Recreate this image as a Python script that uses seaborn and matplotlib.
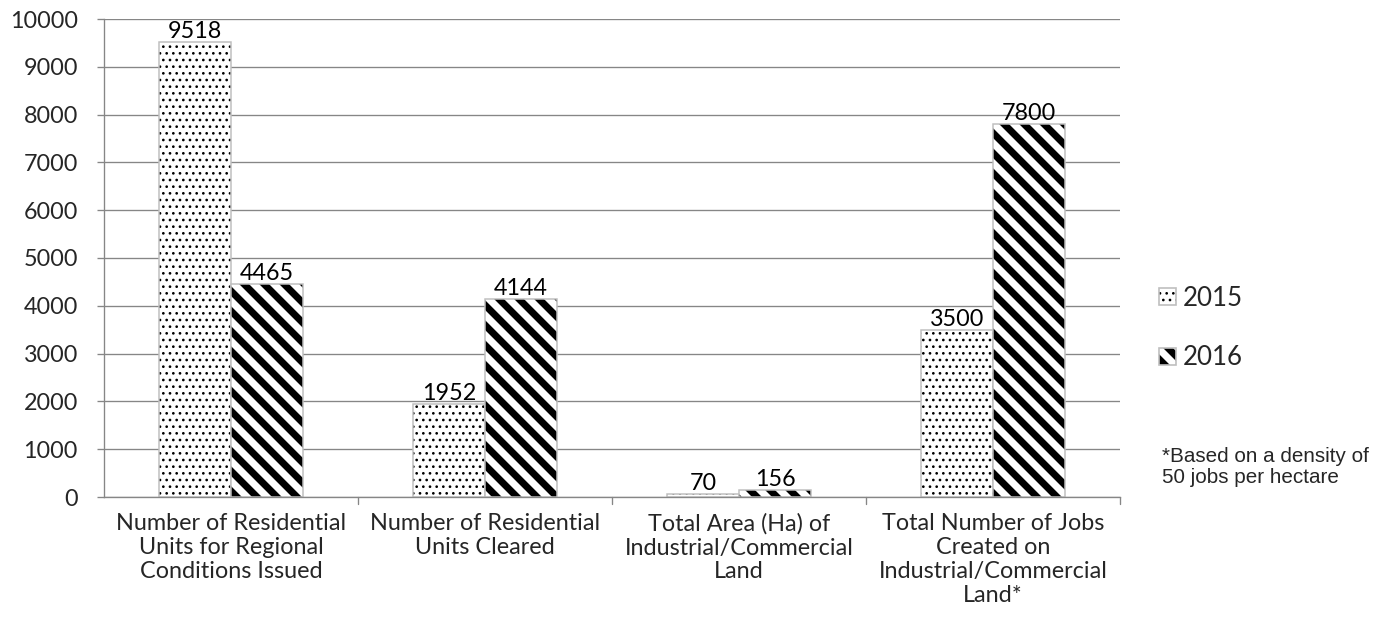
import matplotlib
matplotlib.use("Agg")
import matplotlib.pyplot as plt
from matplotlib.patches import Patch
import seaborn as sns
import pandas as pd

categories = [
    "Number of Residential\nUnits for Regional\nConditions Issued",
    "Number of Residential\nUnits Cleared",
    "Total Area (Ha) of\nIndustrial/Commercial\nLand",
    "Total Number of Jobs\nCreated on\nIndustrial/Commercial\nLand*",
]
years = ["2015", "2016"]
values_2015 = [9518, 1952, 70, 3500]
values_2016 = [4465, 4144, 156, 7800]
y_ticks = [0, 1000, 2000, 3000, 4000, 5000, 6000, 7000, 8000, 9000, 10000]
footnote = "*Based on a density of\n50 jobs per hectare"

df = pd.DataFrame({
    "category": categories * 2,
    "year": [years[0]] * len(categories) + [years[1]] * len(categories),
    "value": values_2015 + values_2016,
})

DPI = 120
W, H = 1392, 638
FS = 14

sns.set_theme(style="white")
plt.rcParams["font.family"] = ["Lato", "DejaVu Sans"]
plt.rcParams["hatch.linewidth"] = 0.8

fig = plt.figure(figsize=(W / DPI, H / DPI), dpi=DPI)
ax = fig.add_axes([104 / W, 1 - 497 / H, (1120 - 104) / W, (497 - 19) / H])

GRID = "#868686"
EDGE = "#bfbfbf"

sns.barplot(data=df, x="category", y="value", hue="year", ax=ax,
            palette=["white", "white"], width=0.567, gap=0,
            edgecolor=EDGE, linewidth=0.9, legend=False)

hatches = {"2015": "...", "2016": "\\\\"}
stripe_lw = 4.2


def style_patch(p, yr):
    p.set_hatch(hatches[yr])
    p.set_facecolor("white")
    p.set_edgecolor(EDGE)
    p._hatch_color = (0, 0, 0, 1)
    if yr == "2016" and hasattr(p, "set_hatch_linewidth"):
        p.set_hatch_linewidth(stripe_lw)


for container, yr in zip(ax.containers, years):
    for bar in container:
        style_patch(bar, yr)
    ax.bar_label(container, labels=[f"{int(v)}" for v in container.datavalues],
                 padding=0, fontsize=FS, color="black")

ax.set_ylim(0, 10000)
ax.set_yticks(y_ticks)
ax.set_yticklabels([str(t) for t in y_ticks], fontsize=FS)
ax.set_xlim(-0.5, len(categories) - 0.5)
ax.set_xticks(range(len(categories)))
ax.set_xticklabels(categories, fontsize=FS, linespacing=1.17)
ax.tick_params(axis="x", length=0, pad=9.7)
ax.tick_params(axis="y", length=4.2, width=0.8, color=GRID, direction="out",
               pad=11.5, left=True)
# group separators below the category axis
for xb in [0.5, 1.5, 2.5, 3.5]:
    ax.plot([xb, xb], [0, -0.015], transform=ax.get_xaxis_transform(),
            color=GRID, lw=0.8, clip_on=False)

ax.set_xlabel("")
ax.set_ylabel("")
ax.yaxis.grid(True, color=GRID, linewidth=0.8)
ax.set_axisbelow(True)
for side in ["top", "right"]:
    ax.spines[side].set_visible(False)
for side in ["left", "bottom"]:
    ax.spines[side].set_color(GRID)
    ax.spines[side].set_linewidth(0.8)

handles = [Patch(facecolor="white", edgecolor=EDGE, hatch=hatches[yr], label=yr)
           for yr in years]
leg = fig.legend(handles=handles, loc="center left",
                 bbox_to_anchor=(1159 / W, 1 - 328 / H),
                 frameon=False, fontsize=15.5, handlelength=0.65, handleheight=0.65,
                 handletextpad=0.25, labelspacing=1.35, borderpad=0,
                 borderaxespad=0)
for h, yr in zip(leg.legend_handles, years):
    style_patch(h, yr)

fig.text(1162 / W, 1 - 447 / H, footnote,
         fontsize=12.4, family=["Liberation Sans", "DejaVu Sans"], va="top",
         linespacing=1.15)

fig.savefig("out.png", dpi=DPI)
